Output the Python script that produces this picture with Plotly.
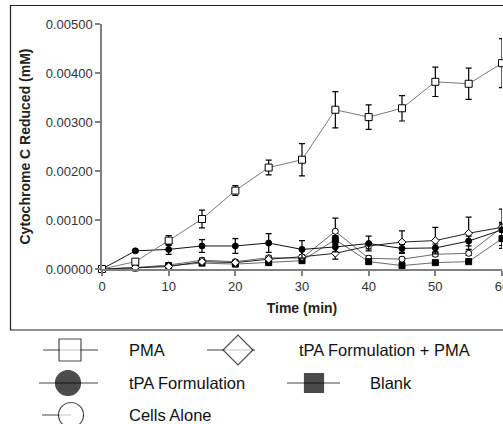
import plotly.graph_objects as go

W, H = 503, 424

time_min = [0, 5, 10, 15, 20, 25, 30, 35, 40, 45, 50, 55, 60]

pma = [0.0, 0.00015, 0.00058, 0.00102, 0.00160, 0.00207, 0.00223, 0.00325, 0.00310, 0.00328, 0.00382, 0.00378, 0.00420]
pma_err = [0.0, 0.00004, 0.00010, 0.00018, 0.00010, 0.00015, 0.00033, 0.00037, 0.00025, 0.00026, 0.00030, 0.00032, 0.00050]

tpa = [0.0, 0.00037, 0.00040, 0.00047, 0.00047, 0.00053, 0.00040, 0.00045, 0.00052, 0.00042, 0.00043, 0.00057, 0.00080]
tpa_err = [0.0, 0.00003, 0.00010, 0.00013, 0.00015, 0.00019, 0.00018, 0.00010, 0.00015, 0.00008, 0.00008, 0.00010, 0.00012]

tpa_pma = [0.0, 0.00003, 0.00005, 0.00015, 0.00013, 0.00020, 0.00025, 0.00032, 0.00047, 0.00055, 0.00058, 0.00073, 0.00085]
tpa_pma_err = [0.0, 0.00002, 0.00003, 0.00004, 0.00004, 0.00004, 0.00004, 0.00012, 0.00006, 0.00023, 0.00027, 0.00033, 0.00037]

cells = [0.0, 0.00003, 0.00008, 0.00018, 0.00015, 0.00023, 0.00022, 0.00077, 0.00022, 0.00020, 0.00030, 0.00032, 0.00085]
cells_err = [0.0, 0.00002, 0.00002, 0.00004, 0.00003, 0.00004, 0.00003, 0.00027, 0.00005, 0.00004, 0.00004, 0.00004, 0.00010]

blank = [0.0, 0.00002, 0.00007, 0.00012, 0.00010, 0.00013, 0.00017, 0.00060, 0.00015, 0.00007, 0.00013, 0.00015, 0.00062]
blank_err = [0.0, 0.00001, 0.00002, 0.00003, 0.00003, 0.00003, 0.00003, 0.00008, 0.00004, 0.00003, 0.00003, 0.00003, 0.00020]

y_ticks = [0.0, 0.001, 0.002, 0.003, 0.004, 0.005]
x_ticks = [0, 10, 20, 30, 40, 50, 60]

legend_names = ["PMA", "tPA Formulation + PMA", "tPA Formulation", "Blank", "Cells Alone"]

# pixel layout helpers
PX_L, PX_R = 102, 502
PX_T, PX_B = 24, 269

series = [
    dict(name="Cells Alone", y=cells, e=cells_err, sym="circle", fill="white", size=6, lc="#6a6a6a"),
    dict(name="Blank", y=blank, e=blank_err, sym="square", fill="black", size=6, lc="#6a6a6a"),
    dict(name="tPA Formulation + PMA", y=tpa_pma, e=tpa_pma_err, sym="diamond", fill="white", size=6, lc="#222222"),
    dict(name="tPA Formulation", y=tpa, e=tpa_err, sym="circle", fill="black", size=6, lc="#111111"),
    dict(name="PMA", y=pma, e=pma_err, sym="square", fill="white", size=7, lc="#7a7a7a"),
]

fig = go.Figure()
for s in series:
    fig.add_trace(go.Scatter(
        x=time_min, y=s["y"], name=s["name"], mode="lines+markers",
        line=dict(color=s["lc"], width=1),
        marker=dict(symbol=s["sym"], size=s["size"], color=s["fill"],
                    line=dict(color="black", width=1)),
        error_y=dict(type="data", array=s["e"], visible=True, color="black",
                     thickness=1.2, width=3),
        cliponaxis=False, showlegend=False, xaxis="x", yaxis="y",
    ))

# custom legend (drawn in a pixel-scaled helper axis below the plot)
leg_items = [
    dict(name=legend_names[0], sym="square", fill="white", size=22, lx=(43, 98), mx=70, tx=127, ty=350),
    dict(name=legend_names[1], sym="diamond", fill="white", size=23, lx=(207, 255), mx=238, tx=297, ty=350),
    dict(name=legend_names[2], sym="circle", fill="black", size=25, lx=(39, 98), mx=68, tx=127, ty=383),
    dict(name=legend_names[3], sym="square", fill="black", size=19, lx=(287, 340), mx=314, tx=368, ty=383),
    dict(name=legend_names[4], sym="circle", fill="white", size=25, lx=(42, 71), mx=71, tx=127, ty=415),
]
for it in leg_items:
    fig.add_trace(go.Scatter(
        x=[it["lx"][0], it["mx"], it["lx"][1]], y=[it["ty"]] * 3,
        mode="lines+markers", line=dict(color="#444444", width=1),
        marker=dict(symbol=it["sym"], size=[0, it["size"], 0], color=it["fill"],
                    line=dict(color="black", width=1.2)),
        cliponaxis=False, showlegend=False, hoverinfo="skip",
        xaxis="x2", yaxis="y2",
    ))
    fig.add_annotation(x=it["tx"], y=it["ty"], xref="x2", yref="y2", text=it["name"],
                       showarrow=False, xanchor="left", yanchor="middle",
                       font=dict(family="Arial, Liberation Sans", size=16.5, color="#111111"))

axis_font = dict(family="Arial, Liberation Sans", size=13, color="#333333")
title_font = dict(family="Arial, Liberation Sans", size=14, color="#222222")

fig.update_layout(
    width=W, height=H,
    margin=dict(l=0, r=0, t=0, b=0),
    paper_bgcolor="white", plot_bgcolor="rgba(0,0,0,0)",
    xaxis=dict(domain=[PX_L / W, PX_R / W], range=[0, 60], tickvals=x_ticks,
               showline=True, linecolor="#808080", linewidth=1.5,
               ticks="outside", ticklen=5, tickcolor="#808080", tickwidth=1.5,
               showgrid=False, zeroline=False, tickfont=axis_font,
               ticklabeloverflow="allow",
               title=dict(text="<b>Time (min)</b>", font=title_font, standoff=10),
               automargin=False, anchor="y"),
    yaxis=dict(domain=[(H - PX_B) / H, (H - PX_T) / H], range=[0, 0.005], tickvals=y_ticks,
               tickformat=".5f",
               showline=True, linecolor="#808080", linewidth=1.5,
               ticks="outside", ticklen=5, tickcolor="#808080", tickwidth=1.5,
               showgrid=False, zeroline=False, tickfont=axis_font,
               title=dict(text="<b>Cytochrome C Reduced (mM)</b>", font=title_font, standoff=12),
               automargin=False, anchor="x"),
    xaxis2=dict(domain=[0, 1], range=[0, W], visible=False, anchor="y2", fixedrange=True),
    yaxis2=dict(domain=[0, (H - 335) / H], range=[H, 335], visible=False, anchor="x2", fixedrange=True),
    showlegend=False,
)

# frame around the chart area
fig.add_shape(type="rect", xref="paper", yref="paper",
              x0=10.5 / W, x1=1.02, y0=(H - 330) / H, y1=(H - 5.5) / H,
              line=dict(color="#222222", width=1.2), fillcolor="rgba(0,0,0,0)", layer="below")

fig.write_html(
    "out.html",
    config={"displayModeBar": False},
    post_script="document.body.style.margin='0';document.body.style.overflow='hidden';",
)
